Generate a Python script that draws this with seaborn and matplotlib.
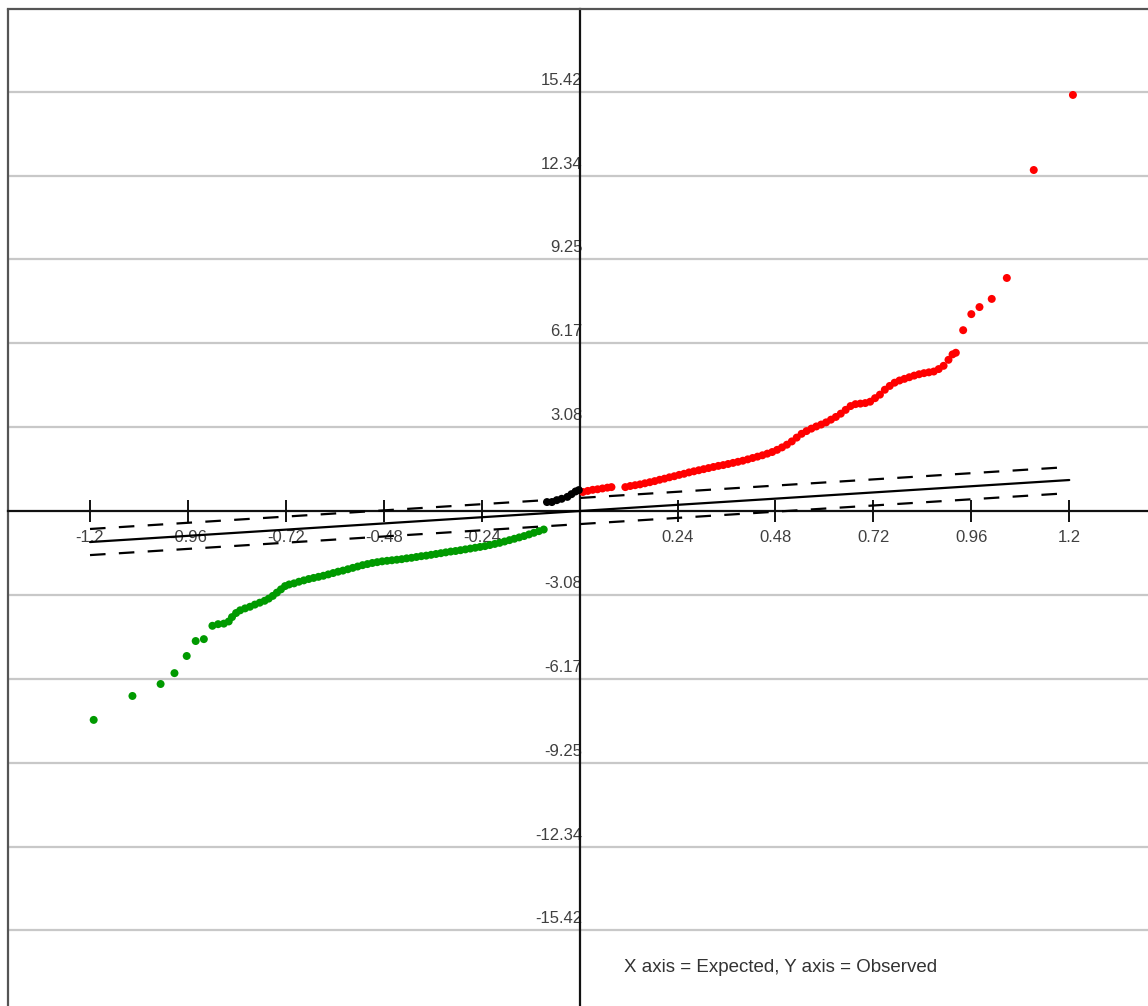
import numpy as np
import pandas as pd
import matplotlib
matplotlib.use("Agg")
import matplotlib.pyplot as plt
import seaborn as sns
from matplotlib.transforms import ScaledTranslation

sns.set_style("white")
plt.rcParams['font.family'] = ['Liberation Sans', 'DejaVu Sans']

# ---------------- data ----------------
red_x = [0.008, 0.020, 0.032, 0.044, 0.056, 0.068, 0.078,
         0.112, 0.124, 0.136, 0.148, 0.160, 0.172, 0.184, 0.196, 0.208, 0.220,
         0.232, 0.244, 0.256, 0.268, 0.280, 0.292, 0.304, 0.316, 0.328, 0.340,
         0.352, 0.364, 0.376, 0.388, 0.400, 0.412, 0.424, 0.436, 0.448, 0.460,
         0.472, 0.484, 0.496, 0.508, 0.520, 0.532, 0.544, 0.556, 0.568, 0.580,
         0.592, 0.604, 0.616, 0.628, 0.640, 0.652, 0.664, 0.676, 0.688, 0.700,
         0.712, 0.724, 0.736, 0.748, 0.760, 0.772, 0.784, 0.796, 0.808, 0.820,
         0.832, 0.844, 0.856, 0.868, 0.880, 0.892, 0.904, 0.914, 0.922,
         0.940, 0.960, 0.980, 1.010, 1.047, 1.113, 1.209]
red_y = [0.70, 0.74, 0.78, 0.80, 0.83, 0.86, 0.88,
         0.88, 0.92, 0.95, 0.98, 1.02, 1.06, 1.10, 1.15, 1.19, 1.24,
         1.28, 1.33, 1.37, 1.42, 1.46, 1.50, 1.54, 1.58, 1.62, 1.66,
         1.69, 1.73, 1.77, 1.81, 1.85, 1.90, 1.95, 2.00, 2.05, 2.11,
         2.17, 2.25, 2.34, 2.44, 2.56, 2.70, 2.84, 2.94, 3.03, 3.11,
         3.18, 3.26, 3.36, 3.46, 3.58, 3.72, 3.86, 3.93, 3.95, 3.97,
         4.02, 4.15, 4.28, 4.46, 4.60, 4.72, 4.80, 4.86, 4.92, 4.98,
         5.03, 5.07, 5.10, 5.13, 5.22, 5.34, 5.56, 5.76, 5.82,
         6.65, 7.24, 7.50, 7.80, 8.57, 12.54, 15.30]

green_x = [-0.088, -0.100, -0.112, -0.124, -0.136, -0.148, -0.160, -0.172, -0.184,
           -0.196, -0.208, -0.220, -0.232, -0.244, -0.256, -0.268, -0.280, -0.292,
           -0.304, -0.316, -0.328, -0.340, -0.352, -0.364, -0.376, -0.388, -0.400,
           -0.412, -0.424, -0.436, -0.448, -0.460, -0.472, -0.484, -0.496, -0.508,
           -0.520, -0.532, -0.544, -0.556, -0.568, -0.580, -0.592, -0.604, -0.616,
           -0.628, -0.640, -0.652, -0.664, -0.676, -0.688, -0.700, -0.712, -0.722,
           -0.732, -0.742, -0.752, -0.762, -0.772, -0.784, -0.796, -0.808, -0.820,
           -0.832, -0.842, -0.852, -0.860, -0.872, -0.886, -0.900,
           -0.921, -0.941, -0.963, -0.993, -1.027, -1.096, -1.191]
green_y = [-0.68, -0.74, -0.80, -0.86, -0.92, -0.97, -1.02, -1.07, -1.12,
           -1.17, -1.21, -1.25, -1.29, -1.32, -1.35, -1.38, -1.41, -1.44,
           -1.47, -1.49, -1.52, -1.55, -1.58, -1.61, -1.64, -1.66, -1.69,
           -1.72, -1.74, -1.77, -1.79, -1.81, -1.83, -1.85, -1.88, -1.91,
           -1.95, -1.99, -2.04, -2.09, -2.14, -2.19, -2.23, -2.28, -2.33,
           -2.38, -2.42, -2.46, -2.50, -2.55, -2.60, -2.66, -2.70, -2.76,
           -2.88, -3.00, -3.12, -3.22, -3.30, -3.37, -3.44, -3.52, -3.58,
           -3.65, -3.75, -3.90, -4.06, -4.14, -4.16, -4.22,
           -4.71, -4.78, -5.33, -5.96, -6.36, -6.80, -7.68]

black_x = [-0.080, -0.068, -0.056, -0.044, -0.030, -0.020, -0.010, -0.002]
black_y = [0.33, 0.33, 0.40, 0.45, 0.52, 0.62, 0.72, 0.77]

fit_x = [-1.2, 1.2]
fit_y = [-1.14, 1.14]
upper_y = [-0.66, 1.62]
lower_y = [-1.62, 0.66]

xtick_vals = [-1.2, -0.96, -0.72, -0.48, -0.24, 0.24, 0.48, 0.72, 0.96, 1.2]
xtick_labels = ["-1.2", "-0.96", "-0.72", "-0.48", "-0.24",
                "0.24", "0.48", "0.72", "0.96", "1.2"]
ytick_vals = [-15.42, -12.336, -9.252, -6.168, -3.084,
              3.084, 6.168, 9.252, 12.336, 15.42]
ytick_labels = ["-15.42", "-12.34", "-9.25", "-6.17", "-3.08",
                "3.08", "6.17", "9.25", "12.34", "15.42"]

note = "X axis = Expected, Y axis = Observed"

# ---------------- figure ----------------
W, H = 1148, 1006
fig = plt.figure(figsize=(W / 100, H / 100), dpi=100)
ax = fig.add_axes([8 / W, 0, 1 - 8 / W, 1 - 9 / H])

df = pd.DataFrame({
    "x": red_x + green_x + black_x,
    "y": red_y + green_y + black_y,
    "group": ["up"] * len(red_x) + ["down"] * len(green_x) + ["mid"] * len(black_x),
})
sns.scatterplot(data=df, x="x", y="y", hue="group",
                palette={"up": "#ff0000", "down": "#009a00", "mid": "#000000"},
                marker="o", s=33, linewidth=0, legend=False, ax=ax, zorder=3)

sns.lineplot(x=fit_x, y=fit_y, color="black", lw=1.6, ax=ax, zorder=4)
sns.lineplot(x=fit_x, y=upper_y, color="black", lw=1.6, ax=ax, zorder=4)
ax.lines[-1].set_dashes([7, 6])
sns.lineplot(x=fit_x, y=lower_y, color="black", lw=1.6, ax=ax, zorder=4)
ax.lines[-1].set_dashes([7, 6])

ax.set_xlim(-1.401, 1.393)
ax.set_ylim(-18.2, 18.46)
ax.set_xlabel("")
ax.set_ylabel("")

ax.set_xticks(xtick_vals)
ax.set_xticklabels(xtick_labels)
ax.set_yticks(ytick_vals)
ax.set_yticklabels(ytick_labels)

ax.spines["bottom"].set_position(("data", 0))
ax.spines["left"].set_position(("data", 0))
ax.spines["right"].set_visible(False)
for s in ("bottom", "left"):
    ax.spines[s].set_color("#111111")
    ax.spines[s].set_linewidth(1.6)
    ax.spines[s].set_zorder(2.5)
ax.spines["top"].set_color("#555555")
ax.spines["top"].set_linewidth(1.6)
ax.plot([0, 0], [0, 1], transform=ax.transAxes, color="#555555", lw=1.6, clip_on=False)

ax.tick_params(axis="x", bottom=True, top=False, direction="inout", length=16,
               width=1.4, color="#111111", pad=6, labelsize=12, labelcolor="#404040")
ax.tick_params(axis="y", left=False, right=False, length=0, pad=-2,
               labelsize=12, labelcolor="#404040")
ax.yaxis.grid(True, color="#c8c8c8", lw=1.6)
ax.xaxis.grid(False)
ax.set_axisbelow(True)

off = ScaledTranslation(0, 13 / 100, fig.dpi_scale_trans)
for lab in ax.get_yticklabels():
    lab.set_transform(lab.get_transform() + off)

fig.text(781 / W, 1 - 967 / H, note, ha="center", va="center", fontsize=13.5, color="#333333")

fig.savefig("out.png", dpi=100)
